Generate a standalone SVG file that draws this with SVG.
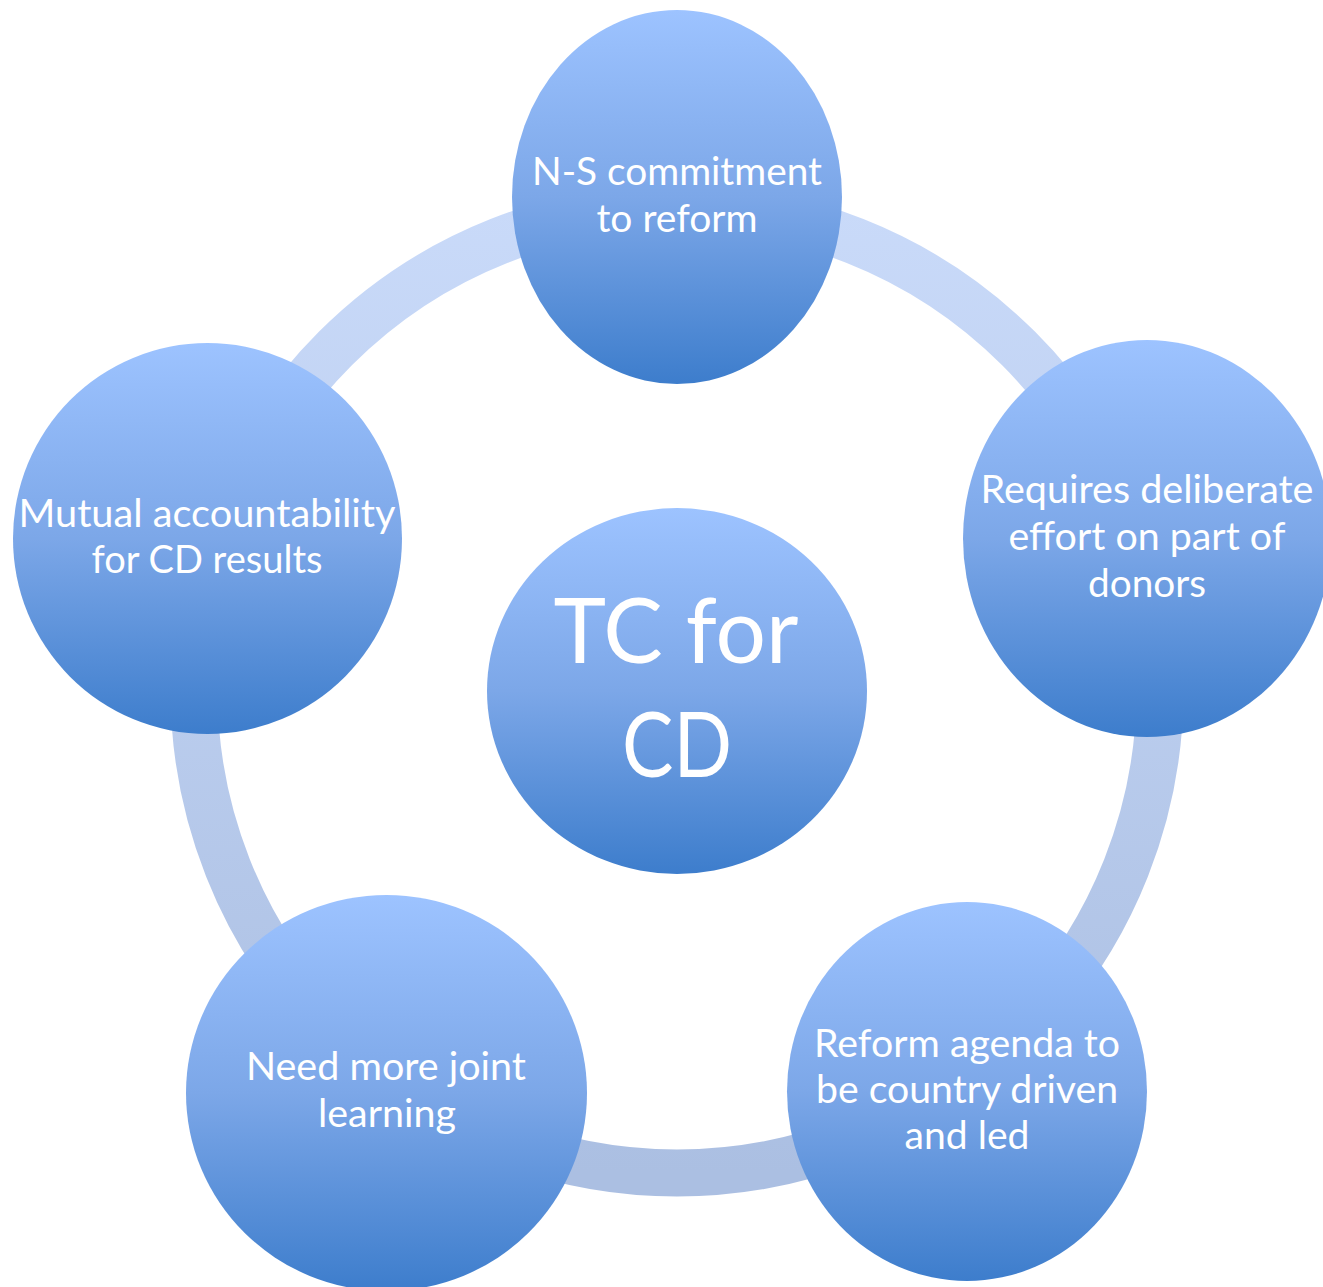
<svg xmlns="http://www.w3.org/2000/svg" width="1323" height="1287" viewBox="0 0 1323 1287">
<style>
.lbl{font-family:Lato,"Open Sans","Liberation Sans",sans-serif;font-size:38px;fill:#ffffff;text-anchor:middle}
.big{font-size:92px}
.node{fill:url(#ng)}
</style>
<defs>
<linearGradient id="ng" x1="0" y1="0" x2="0" y2="1">
<stop offset="0" stop-color="#9dc3ff"/>
<stop offset="0.5" stop-color="#7ca7e8"/>
<stop offset="1" stop-color="#3d7dcc"/>
</linearGradient>
<linearGradient id="rg" gradientUnits="userSpaceOnUse" x1="0" y1="207" x2="0" y2="1173">
<stop offset="0" stop-color="#c9daf9"/>
<stop offset="1" stop-color="#abbfe2"/>
</linearGradient>
</defs>
<rect width="1323" height="1287" fill="#ffffff"/>
<g id="connectors">
<circle cx="677" cy="690" r="483" fill="none" stroke="url(#rg)" stroke-width="47"/>
</g>
<g id="node-top">
<ellipse class="node" cx="677" cy="197" rx="165" ry="187"/>
<text class="lbl" x="677" y="185" textLength="290" lengthAdjust="spacingAndGlyphs">N-S commitment</text>
<text class="lbl" x="677" y="232" textLength="161" lengthAdjust="spacingAndGlyphs">to reform</text>
</g>
<g id="node-right">
<ellipse class="node" cx="1147" cy="538.5" rx="184" ry="198.5"/>
<text class="lbl" x="1147" y="503" textLength="333" lengthAdjust="spacingAndGlyphs">Requires deliberate</text>
<text class="lbl" x="1147" y="550" textLength="277" lengthAdjust="spacingAndGlyphs">effort on part of</text>
<text class="lbl" x="1147" y="597" textLength="118" lengthAdjust="spacingAndGlyphs">donors</text>
</g>
<g id="node-bottom-right">
<ellipse class="node" cx="967" cy="1091.5" rx="180" ry="189.5"/>
<text class="lbl" x="967" y="1057" textLength="306" lengthAdjust="spacingAndGlyphs">Reform agenda to</text>
<text class="lbl" x="967" y="1103" textLength="302" lengthAdjust="spacingAndGlyphs">be country driven</text>
<text class="lbl" x="967" y="1149" textLength="125" lengthAdjust="spacingAndGlyphs">and led</text>
</g>
<g id="node-bottom-left">
<ellipse class="node" cx="386.5" cy="1093" rx="200.5" ry="198"/>
<text class="lbl" x="386" y="1080" textLength="280" lengthAdjust="spacingAndGlyphs">Need more joint</text>
<text class="lbl" x="387" y="1127" textLength="138" lengthAdjust="spacingAndGlyphs">learning</text>
</g>
<g id="node-left">
<ellipse class="node" cx="207.5" cy="538.5" rx="194.5" ry="195.5"/>
<text class="lbl" x="207" y="527" textLength="377" lengthAdjust="spacingAndGlyphs">Mutual accountability</text>
<text class="lbl" x="207" y="573" textLength="231" lengthAdjust="spacingAndGlyphs">for CD results</text>
</g>
<g id="node-center">
<ellipse class="node" cx="677" cy="691" rx="190" ry="183"/>
<text class="lbl big" x="676" y="663" textLength="245" lengthAdjust="spacingAndGlyphs">TC for</text>
<text class="lbl big" x="677" y="777" textLength="110" lengthAdjust="spacingAndGlyphs">CD</text>
</g>
</svg>
